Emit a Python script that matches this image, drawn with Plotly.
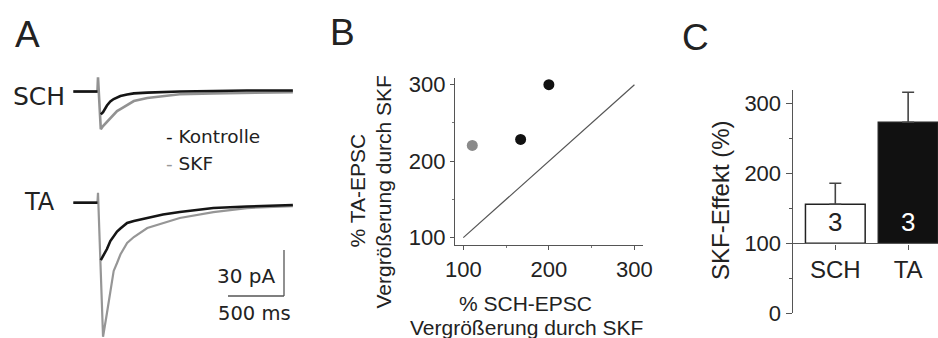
import plotly.graph_objects as go

W, H = 938, 338

# ---------------- data ----------------
# Panel A: EPSC traces (time in ms relative to stimulus, current in pA)
TIME_MS = [-220, -5, 0, 25, 45, 80, 110, 140, 170, 200, 260, 320, 440, 580, 730, 1030, 1330, 1740]
SCH_KONTROLLE_PA = [0, 0, None, -14.9, -13.4, -9.1, -6.5, -4.9, -3.9, -2.9, -2.0, -1.2, -0.7, -0.3, 0.0, 0.3, 0.7, 0.7]
SCH_SKF_PA = [0, 0, 9.3, -24.6, -22.5, -19.6, -17.0, -15.0, -12.7, -11.4, -8.8, -6.2, -4.2, -2.9, -1.8, -1.2, -0.8, -0.5]
TA_KONTROLLE_PA = [0, 0, None, -37.4, -34.7, -30.2, -25.0, -21.7, -18.8, -16.8, -13.2, -11.9, -10.0, -7.7, -6.1, -3.5, -2.5, -1.5]
TA_SKF_PA = [0, 0, 6.5, -45.0, -87.4, -71.9, -57.6, -44.5, -39.3, -33.8, -26.3, -22.4, -16.5, -13.2, -10.0, -6.1, -3.5, -2.2]
SCALE_PA = 30
SCALE_MS = 500

# Panel B: scatter (% enhancement by SKF)
GRAY_SCH_PCT = [110.5]
GRAY_TA_PCT = [220.6]
BLACK_SCH_PCT = [167, 200]
BLACK_TA_PCT = [228.4, 300]
UNITY = [100, 300]

# Panel C: bars
BAR_CATEGORIES = ["SCH", "TA"]
BAR_MEANS = [155.7, 272.9]
BAR_ERR = [30.0, 42.8]
BAR_N = [3, 3]
BAR_BASE = 100

# ---------------- layout helpers ----------------
def fx(px):
    return px / W

def fy(py):
    return 1 - py / H

TXT = "#222222"
SANS = "Liberation Sans, Arial, sans-serif"
ROUND = "DejaVu Sans, sans-serif"

SCH_OFFSET = 72.5   # display offset of SCH traces (pA)
MS_PER_PX = 500 / 56
PA_PER_PX = 30 / 46

fig = go.Figure()

# ---------- Panel A ----------
sch_k = [None if v is None else v + SCH_OFFSET for v in SCH_KONTROLLE_PA]
sch_s = [None if v is None else v + SCH_OFFSET for v in SCH_SKF_PA]
for ys, col, w in [(sch_s, "#929292", 2.6), (sch_k, "#151515", 2.6),
                   (TA_SKF_PA, "#969696", 2.2), (TA_KONTROLLE_PA, "#151515", 2.6)]:
    fig.add_trace(go.Scatter(x=TIME_MS, y=ys, mode="lines", line=dict(color=col, width=w),
                             connectgaps=False, xaxis="x", yaxis="y", showlegend=False,
                             hoverinfo="skip"))

ax_l, ax_r = 70, 300
t0_px, base_px = 98, 202.7
xa_range = [(ax_l - t0_px) * MS_PER_PX, (ax_r - t0_px) * MS_PER_PX]
ya_range = [-(H - base_px) * PA_PER_PX, base_px * PA_PER_PX]

# scale bar
sb_t = (284 - t0_px) * MS_PER_PX
sb_top = -(250 - base_px) * PA_PER_PX
fig.add_shape(type="line", xref="x", yref="y", x0=sb_t, x1=sb_t, y0=sb_top, y1=sb_top - SCALE_PA,
              line=dict(color="#555", width=1.3))
fig.add_shape(type="line", xref="x", yref="y", x0=sb_t - SCALE_MS, x1=sb_t, y0=sb_top - SCALE_PA,
              y1=sb_top - SCALE_PA, line=dict(color="#555", width=1.3))

# ---------- Panel B ----------
fig.add_trace(go.Scatter(x=UNITY, y=UNITY, mode="lines", line=dict(color="#555", width=1.2),
                         xaxis="x2", yaxis="y2", showlegend=False, hoverinfo="skip"))
fig.add_trace(go.Scatter(x=GRAY_SCH_PCT, y=GRAY_TA_PCT, mode="markers",
                         marker=dict(color="#8a8a8a", size=11), xaxis="x2", yaxis="y2",
                         showlegend=False, hoverinfo="skip"))
fig.add_trace(go.Scatter(x=BLACK_SCH_PCT, y=BLACK_TA_PCT, mode="markers",
                         marker=dict(color="#111", size=11), xaxis="x2", yaxis="y2",
                         showlegend=False, hoverinfo="skip"))

# ---------- Panel C ----------
fig.add_trace(go.Bar(x=BAR_CATEGORIES, y=[m - BAR_BASE for m in BAR_MEANS], base=BAR_BASE,
                     width=0.82,
                     marker=dict(color=["white", "#111"], line=dict(color="#222", width=1.5)),
                     error_y=dict(type="data", array=BAR_ERR, arrayminus=[0, 0], symmetric=False,
                                  color="#444", thickness=1.6, width=6),
                     xaxis="x3", yaxis="y3", showlegend=False, hoverinfo="skip"))

annotations = []
for cat, n, col in zip(BAR_CATEGORIES, BAR_N, ["#222", "white"]):
    annotations.append(dict(x=cat, y=130.5, xref="x3", yref="y3", text=str(n), showarrow=False,
                            font=dict(family=SANS, size=26, color=col)))

def ann(text, px, py, size, family=SANS, xanchor="center", angle=0, color=TXT):
    annotations.append(dict(x=fx(px), y=fy(py), xref="paper", yref="paper", text=text,
                            showarrow=False, xanchor=xanchor, yanchor="middle", textangle=angle,
                            font=dict(family=family, size=size, color=color)))

ann("A", 27.5, 35, 37)
ann("B", 342.5, 33, 37)
ann("C", 695, 37, 37)
ann("SCH", 38.5, 96, 25, family=ROUND)
ann("TA", 39.5, 202, 24, family=ROUND)
ann("<span style='color:#111'>-</span> Kontrolle", 164, 136, 18.5, family=ROUND, xanchor="left")
ann("<span style='color:#999'>-</span> SKF", 164, 163, 18.5, family=ROUND, xanchor="left")
ann("30 pA", 278, 276, 20, family=ROUND, xanchor="right")
ann("500 ms", 254, 313, 19.5, family=ROUND)
ann("% TA-EPSC", 356.5, 191, 21, angle=-90)
ann("Vergrößerung durch SKF", 382.5, 192, 21, angle=-90)
ann("% SCH-EPSC", 525, 303, 21)
ann("Vergrößerung durch SKF", 526.5, 327, 21)
ann("SKF-Effekt (%)", 720, 200, 24, angle=-90)

axis_common = dict(showline=True, linecolor="#555", linewidth=1.4, ticks="outside",
                   tickcolor="#555", showgrid=False, zeroline=False, automargin=False,
                   tickfont=dict(family=SANS, size=22, color=TXT))

fig.update_layout(
    width=W, height=H, margin=dict(l=0, r=0, t=0, b=0, autoexpand=False),
    paper_bgcolor="white", plot_bgcolor="rgba(0,0,0,0)",
    showlegend=False,
    xaxis=dict(domain=[fx(ax_l), fx(ax_r)], range=xa_range, visible=False, fixedrange=True,
               automargin=False),
    yaxis=dict(domain=[0, 1], range=ya_range, visible=False, fixedrange=True, automargin=False),
    xaxis2=dict(domain=[fx(455), fx(643)], range=[90.3, 310], anchor="y2",
                tickvals=[100, 200, 300], ticklen=4,
                minor=dict(ticks="outside", dtick=50, tick0=0, ticklen=2, tickcolor="#777"),
                **axis_common),
    yaxis2=dict(domain=[fy(245), fy(78)], range=[90.4, 308.8], anchor="x2",
                tickvals=[100, 200, 300], ticklen=4,
                minor=dict(ticks="outside", dtick=50, tick0=0, ticklen=2, tickcolor="#777"),
                **axis_common),
    xaxis3=dict(domain=[fx(792.7), 1.0], range=[-0.585, 1.41], anchor="free",
                position=fy(243.3), ticklen=5, type="category",
                **{**axis_common, "tickfont": dict(family=SANS, size=24, color=TXT)}),
    yaxis3=dict(domain=[fy(313.3), fy(90)], range=[0, 319], anchor="x3",
                tickvals=[0, 100, 200, 300], ticklen=6,
                minor=dict(ticks="outside", dtick=50, tick0=0, ticklen=3, tickcolor="#555"),
                **axis_common),
    annotations=annotations,
)

fig.write_html("out.html", config={"displayModeBar": False},
               post_script="document.body.style.margin='0';document.body.style.overflow='hidden';")
